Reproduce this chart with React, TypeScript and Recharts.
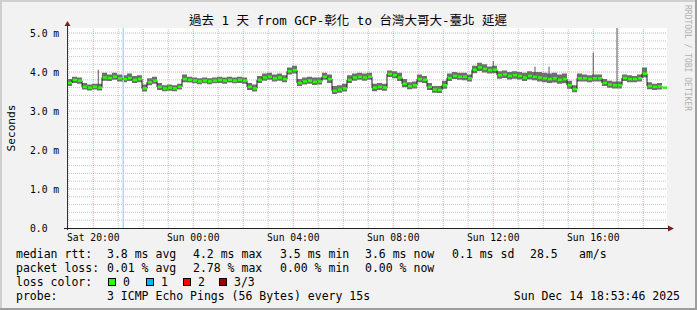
import React from 'react';
import { ComposedChart, Area, Line, XAxis, YAxis, CartesianGrid, ReferenceLine } from 'recharts';

// samples every 12 min, starting Sat 18:57 (hours since Sat 00:00)
const startHour = 18.95;
const sampleStep = 0.2;

const median = [
  3.72, 3.80, 3.78, 3.62, 3.60, 3.62, 3.60, 3.86, 3.85, 3.88,
  3.84, 3.82, 3.85, 3.80, 3.82, 3.58, 3.74, 3.78, 3.62, 3.58,
  3.60, 3.58, 3.62, 3.82, 3.80, 3.78, 3.76, 3.78, 3.76, 3.78,
  3.80, 3.78, 3.80, 3.78, 3.80, 3.78, 3.62, 3.58, 3.80, 3.86,
  3.88, 3.84, 3.86, 3.82, 4.02, 4.05, 3.72, 3.76, 3.78, 3.75,
  3.76, 3.88, 3.82, 3.52, 3.55, 3.58, 3.80, 3.86, 3.88, 3.86,
  3.88, 3.60, 3.62, 3.60, 3.95, 3.92, 3.86, 3.70, 3.64, 3.66,
  3.82, 3.80, 3.62, 3.55, 3.54, 3.66, 3.85, 3.90, 3.88, 3.88,
  3.84, 4.06, 4.12, 4.08, 4.05, 4.06, 3.92, 3.94, 3.90, 3.92,
  3.90, 3.86, 3.90, 3.88, 3.86, 3.84, 3.82, 3.84, 3.80, 3.82,
  3.66, 3.56, 3.84, 3.84, 3.82, 3.84, 3.84, 3.72, 3.68, 3.66,
  3.66, 3.85, 3.82, 3.82, 3.84, 3.96, 3.64, 3.62, 3.63, 3.60,
];

const smokeMax = [
  3.82, 3.88, 3.86, 3.72, 3.68, 3.70, 3.70, 3.98, 3.94, 3.98,
  3.94, 3.92, 3.96, 3.90, 3.92, 3.68, 3.84, 3.88, 3.72, 3.66,
  3.68, 3.66, 3.70, 3.94, 3.88, 3.86, 3.84, 3.86, 3.84, 3.86,
  3.88, 3.86, 3.88, 3.86, 3.88, 3.86, 3.72, 3.68, 3.90, 3.96,
  3.98, 3.94, 3.96, 3.92, 4.12, 4.16, 3.82, 3.86, 3.88, 3.86,
  3.86, 3.98, 3.94, 3.64, 3.66, 3.70, 3.92, 3.96, 3.98, 3.96,
  3.98, 3.70, 3.72, 3.70, 4.04, 4.02, 3.98, 3.82, 3.74, 3.76,
  3.94, 3.90, 3.72, 3.64, 3.64, 3.78, 3.96, 4.00, 3.98, 3.98,
  3.94, 4.16, 4.24, 4.20, 4.14, 4.16, 4.02, 4.04, 4.00, 4.02,
  4.00, 3.98, 4.02, 4.00, 4.00, 3.98, 3.96, 3.98, 3.94, 3.96,
  3.78, 3.66, 3.96, 3.94, 3.92, 3.94, 3.94, 3.82, 3.78, 3.76,
  3.76, 3.94, 3.92, 3.90, 3.94, 4.12, 3.74, 3.70, 3.72, 3.68,
];

const smokeMin = [
  3.64, 3.72, 3.70, 3.55, 3.53, 3.55, 3.53, 3.78, 3.77, 3.80,
  3.76, 3.74, 3.77, 3.72, 3.74, 3.50, 3.66, 3.70, 3.54, 3.51,
  3.52, 3.51, 3.55, 3.74, 3.73, 3.71, 3.69, 3.71, 3.69, 3.71,
  3.72, 3.70, 3.73, 3.71, 3.72, 3.70, 3.54, 3.50, 3.72, 3.78,
  3.80, 3.76, 3.78, 3.74, 3.94, 3.96, 3.64, 3.68, 3.70, 3.67,
  3.68, 3.80, 3.72, 3.44, 3.47, 3.50, 3.72, 3.78, 3.80, 3.78,
  3.80, 3.51, 3.54, 3.52, 3.87, 3.84, 3.77, 3.61, 3.56, 3.58,
  3.74, 3.72, 3.54, 3.47, 3.46, 3.57, 3.77, 3.82, 3.80, 3.79,
  3.76, 3.97, 4.03, 3.99, 3.96, 3.97, 3.83, 3.85, 3.81, 3.83,
  3.81, 3.77, 3.81, 3.79, 3.76, 3.74, 3.72, 3.73, 3.70, 3.71,
  3.57, 3.48, 3.76, 3.76, 3.74, 3.76, 3.76, 3.64, 3.60, 3.58,
  3.58, 3.77, 3.74, 3.74, 3.76, 3.86, 3.56, 3.54, 3.55, 3.53,
];

// single slow pings that stick out of the smoke
const spikeHours = [20.2, 36.0, 37.67, 38.23, 40.0, 40.95];
const spikeBase = [3.62, 4.0, 3.9, 3.88, 3.86, 3.7];
const spikeTop = [4.06, 4.28, 4.14, 4.14, 4.5, 5.16];

const lossHours = [21.2];
const lossMarkColor = '#a8dcf2';

const xTicks = [20, 24, 28, 32, 36, 40];
const xTickLabels = ['Sat 20:00', 'Sun 00:00', 'Sun 04:00', 'Sun 08:00', 'Sun 12:00', 'Sun 16:00'];
const yTicks = [0, 1, 2, 3, 4, 5];
const yTickLabels = ['0.0', '1.0 m', '2.0 m', '3.0 m', '4.0 m', '5.0 m'];

const minorHours = [19, 21, 23, 25, 27, 29, 31, 33, 35, 37, 39, 41];
const majorHours = [20, 22, 24, 26, 28, 30, 32, 34, 36, 38, 40, 42];
const minorValues = [
  0.2, 0.4, 0.6, 0.8, 1.2, 1.4, 1.6, 1.8, 2.2, 2.4, 2.6, 2.8,
  3.2, 3.4, 3.6, 3.8, 4.2, 4.4, 4.6, 4.8,
];
const majorValues = [1, 2, 3, 4, 5];

const title = '過去 1 天 from GCP-彰化 to 台灣大哥大-臺北 延遲';
const rttStats = ['3.8 ms avg', '4.2 ms max', '3.5 ms min', '3.6 ms now', '0.1 ms sd'];
const lossStats = ['0.01 % avg', '2.78 % max', '0.00 % min', '0.00 % now'];
const lossLegend = [
  { label: '0', color: '#26ff00' },
  { label: '1', color: '#00b8ff' },
  { label: '2', color: '#ff0000' },
  { label: '3/3', color: '#a10000' },
];

const data = median.map((m, i) => ({
  t: startHour + i * sampleStep,
  median: m,
  smoke: [smokeMin[i], smokeMax[i]],
}));

const MONO = '"DejaVu Sans Mono", "Noto Sans CJK TC", monospace';
const W = 697;
const H = 310;
const PL = 67;
const PR = 667;
const PT = 28;
const PB = 228;
const Y_MAX = 5.13;

const statX = [107, 193, 280, 365, 452];
const swatchX = [108, 146, 183, 219];

function YTick(props: any) {
  const i = yTicks.indexOf(props.payload.value);
  return (
    <text x={30} y={props.y + 3.5} fontFamily={MONO} fontSize={9.7} fill="#000">
      {yTickLabels[i]}
    </text>
  );
}

function XTick(props: any) {
  const i = xTicks.indexOf(props.payload.value);
  return (
    <text x={props.x} y={241} textAnchor="middle" fontFamily={MONO} fontSize={9.7} fill="#000">
      {xTickLabels[i]}
    </text>
  );
}

// green median segment covering one sample step
function MedianDot(props: any) {
  const { cx, cy } = props;
  if (cx == null || cy == null) return <g />;
  return <rect x={cx + 0.5} y={cy - 1.25} width={4.5} height={2.5} fill="#26ff00" />;
}

export default function App() {
  return (
    <div style={{ position: 'absolute', left: 0, top: 0, width: W, height: H, background: '#f2f2f2' }}>
      <ComposedChart
        width={W}
        height={H}
        data={data}
        margin={{ top: PT, right: W - PR, bottom: H - PB - 20, left: PL - 60 }}
      >
        <CartesianGrid fill="#ffffff" horizontal={false} vertical={false} />
        <XAxis
          type="number"
          dataKey="t"
          domain={[startHour, startHour + 24]}
          ticks={xTicks}
          tick={<XTick />}
          axisLine={false}
          tickLine={false}
          height={20}
          allowDataOverflow
        />
        <YAxis
          type="number"
          domain={[0, Y_MAX]}
          ticks={yTicks}
          tick={<YTick />}
          axisLine={false}
          tickLine={false}
          width={60}
          allowDataOverflow
        />
        {minorValues.map((v) => (
          <ReferenceLine key={'mv' + v} y={v} stroke="#8f8f8f" strokeOpacity={0.5} strokeDasharray="1 1" />
        ))}
        {minorHours.map((h) => (
          <ReferenceLine key={'mh' + h} x={h} stroke="#8f8f8f" strokeOpacity={0.5} strokeDasharray="1 1" />
        ))}
        {majorValues.map((v) => (
          <ReferenceLine key={'Mv' + v} y={v} stroke="#de4f4f" strokeOpacity={0.5} strokeDasharray="1 1" />
        ))}
        {majorHours.map((h) => (
          <ReferenceLine key={'Mh' + h} x={h} stroke="#de4f4f" strokeOpacity={0.5} strokeDasharray="1 1" />
        ))}
        {lossHours.map((h) => (
          <ReferenceLine key={'loss' + h} x={h} stroke={lossMarkColor} strokeWidth={1.5} />
        ))}
        {spikeHours.map((h, i) => (
          <ReferenceLine
            key={'spike' + h}
            segment={[{ x: h, y: spikeBase[i] }, { x: h, y: Math.min(spikeTop[i], Y_MAX) }]}
            ifOverflow="visible"
            stroke="#555"
            strokeWidth={1}
          />
        ))}
        <Area
          type="stepAfter"
          dataKey="smoke"
          stroke="none"
          fill="#6e6e6e"
          fillOpacity={1}
          isAnimationActive={false}
        />
        <Line
          type="stepAfter"
          dataKey="median"
          stroke="#1a1a1a"
          strokeWidth={1}
          dot={<MedianDot />}
          activeDot={false}
          isAnimationActive={false}
        />
      </ComposedChart>

      <svg
        width={W}
        height={H}
        style={{ position: 'absolute', left: 0, top: 0, pointerEvents: 'none' }}
      >
        {/* 3d frame */}
        <rect x={0} y={0} width={W} height={2} fill="#cfcfcf" />
        <rect x={0} y={0} width={2} height={H} fill="#cfcfcf" />
        <rect x={0} y={H - 2} width={W} height={2} fill="#9e9e9e" />
        <rect x={W - 2} y={0} width={2} height={H} fill="#9e9e9e" />

        {/* axes with arrows */}
        <line x1={PL + 0.5} y1={PB + 2} x2={PL + 0.5} y2={24} stroke="#333" strokeWidth={1} />
        <line x1={PL - 3} y1={PB + 0.5} x2={670} y2={PB + 0.5} stroke="#1f1f1f" strokeWidth={1} />
        <polygon points={`${PL - 2.5},26 ${PL + 3.5},26 ${PL + 0.5},21`} fill="#801f1f" />
        <polygon points={`668,${PB - 2.5} 668,${PB + 3.5} 674,${PB + 0.5}`} fill="#801f1f" />

        <text x={348} y={25} textAnchor="middle" fontFamily={MONO} fontSize={12.5} fill="#000">
          {title}
        </text>
        <text
          x={15}
          y={128}
          textAnchor="middle"
          fontFamily={MONO}
          fontSize={11.2}
          fill="#000"
          transform="rotate(-90 15 128)"
        >
          Seconds
        </text>
        <text
          x={685}
          y={5}
          fontFamily={MONO}
          fontSize={8}
          fill="#b0b0b0"
          transform="rotate(90 685 5)"
        >
          RRDTOOL / TOBI OETIKER
        </text>

        <g fontFamily={MONO} fontSize={11.5} fill="#000">
          <text x={16} y={258}>median rtt:</text>
          {rttStats.map((s, i) => (
            <text key={s} x={statX[i]} y={258}>{s}</text>
          ))}
          <text x={530} y={258}>28.5</text>
          <text x={579} y={258}>am/s</text>

          <text x={16} y={272}>packet loss:</text>
          {lossStats.map((s, i) => (
            <text key={s} x={statX[i]} y={272}>{s}</text>
          ))}

          <text x={16} y={286}>loss color:</text>
          {lossLegend.map((l, i) => (
            <g key={l.label}>
              <rect x={swatchX[i] + 0.5} y={278.5} width={7} height={7} fill={l.color} stroke="#000" strokeWidth={1} />
              <text x={swatchX[i] + 15} y={286}>{l.label}</text>
            </g>
          ))}

          <text x={16} y={300}>probe:</text>
          <text x={107} y={300}>3 ICMP Echo Pings (56 Bytes) every 15s</text>
          <text x={680} y={300} textAnchor="end">Sun Dec 14 18:53:46 2025</text>
        </g>
      </svg>
    </div>
  );
}
